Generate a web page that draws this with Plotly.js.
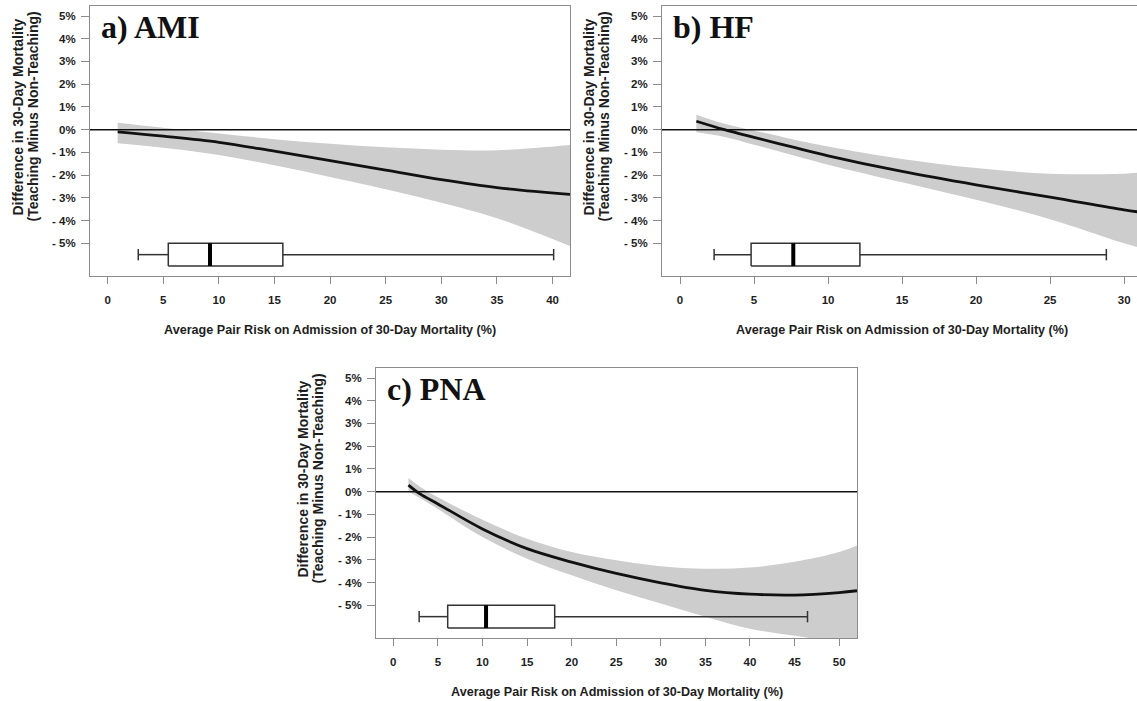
<!DOCTYPE html>
<html>
<head>
<meta charset="utf-8">
<script src="https://cdn.plot.ly/plotly-3.0.1.min.js"></script>
<style>
html,body{margin:0;padding:0;background:#fff;}
#chart{width:1137px;height:701px;}
</style>
</head>
<body>
<div id="chart"></div>
<script>
// ---------- data ----------
const panelLabels = ["a) AMI", "b) HF", "c) PNA"];
const xTitle = "Average Pair Risk on Admission of 30-Day Mortality (%)";
const yTitleLines = ["Difference in 30-Day Mortality", "(Teaching Minus Non-Teaching)"];
const yTickVals = [5, 4, 3, 2, 1, 0, -1, -2, -3, -4, -5];
const yTickText = ["5%", "4%", "3%", "2%", "1%", "0%", "- 1%", "- 2%", "- 3%", "- 4%", "- 5%"];

// a) AMI
const amiX   = [0.9, 5, 10, 15, 20, 25, 30, 35, 41.6];
const amiFit = [-0.10, -0.29, -0.56, -0.95, -1.36, -1.78, -2.20, -2.55, -2.85];
const amiHi  = [0.30, 0.08, -0.17, -0.42, -0.62, -0.78, -0.88, -0.91, -0.68];
const amiLo  = [-0.60, -0.80, -1.12, -1.57, -2.08, -2.62, -3.22, -3.90, -5.13];
const amiBox = [2.75, 5.45, 9.2, 15.75, 40.1];   // low whisker, Q1, median, Q3, high whisker
const amiTicks = [0, 5, 10, 15, 20, 25, 30, 35, 40];

// b) HF
const hfX   = [1.1, 3, 5, 7.5, 10, 15, 20, 25, 30, 31.2];
const hfFit = [0.37, 0.00, -0.34, -0.75, -1.15, -1.84, -2.43, -2.97, -3.53, -3.64];
const hfHi  = [0.66, 0.26, -0.04, -0.41, -0.74, -1.29, -1.69, -1.94, -1.94, -1.88];
const hfLo  = [-0.12, -0.32, -0.66, -1.10, -1.54, -2.32, -3.09, -3.94, -5.00, -5.22];
const hfBox = [2.3, 4.8, 7.65, 12.15, 28.8];
const hfTicks = [0, 5, 10, 15, 20, 25, 30];

// c) PNA
const pnaX   = [1.7, 3, 5, 10, 15, 20, 25, 30, 35, 40, 45, 50, 52];
const pnaFit = [0.29, -0.10, -0.54, -1.64, -2.51, -3.10, -3.60, -4.01, -4.34, -4.51, -4.55, -4.44, -4.36];
const pnaHi  = [0.60, 0.22, -0.25, -1.24, -2.07, -2.66, -3.02, -3.28, -3.39, -3.34, -3.09, -2.66, -2.37];
const pnaLo  = [0.01, -0.28, -0.76, -2.00, -2.95, -3.68, -4.34, -4.92, -5.50, -6.03, -6.34, -6.65, -6.80];
const pnaBox = [2.9, 6.1, 10.4, 18.1, 46.45];
const pnaTicks = [0, 5, 10, 15, 20, 25, 30, 35, 40, 45, 50];

// ---------- layout geometry (pixels) ----------
const W = 1137, H = 701;
const px = v => v / W;
const py = v => 1 - v / H;
const panels = [
  {x: amiX, fit: amiFit, hi: amiHi, lo: amiLo, box: amiBox, ticks: amiTicks,
   left: 90, right: 570, top: 6, bottom: 276, xr: [-1.59, 41.57], ytx: [17.5, 32.5]},
  {x: hfX, fit: hfFit, hi: hfHi, lo: hfLo, box: hfBox, ticks: hfTicks,
   left: 662, right: 1137, top: 6, bottom: 276, xr: [-1.22, 30.87], ytx: [588.5, 603.5]},
  {x: pnaX, fit: pnaFit, hi: pnaHi, lo: pnaLo, box: pnaBox, ticks: pnaTicks,
   left: 376, right: 857, top: 368, bottom: 638, xr: [-1.94, 52.0], ytx: [302.5, 317.5]}
];

const txtColor = "#1e1e1e";
const axColor = "#8c8c8c";
const sans = "Liberation Sans, Arial, sans-serif";
const tickFont = {family: sans, size: 11.5, color: txtColor, weight: "bold"};
const boxY = -5.5, boxHalf = 0.5, capHalf = 0.25;

const traces = [];
const layout = {
  width: W, height: H,
  margin: {l: 0, r: 0, t: 0, b: 0},
  paper_bgcolor: "#ffffff",
  plot_bgcolor: "#ffffff",
  showlegend: false,
  annotations: [],
  shapes: []
};

panels.forEach((p, i) => {
  const sfx = i === 0 ? "" : String(i + 1);
  const xa = "x" + sfx, ya = "y" + sfx;
  const [wl, q1, med, q3, wh] = p.box;
  const common = {xaxis: xa, yaxis: ya, hoverinfo: "skip", showlegend: false};

  traces.push(Object.assign({type: "scatter", mode: "lines", x: p.x, y: p.lo,
    line: {width: 0, color: "#cdcdcd", shape: "spline"}}, common));
  traces.push(Object.assign({type: "scatter", mode: "lines", x: p.x, y: p.hi,
    fill: "tonexty", fillcolor: "#cdcdcd",
    line: {width: 0, color: "#cdcdcd", shape: "spline"}}, common));
  traces.push(Object.assign({type: "scatter", mode: "lines", x: p.x, y: p.fit,
    line: {width: 2.8, color: "#111111", shape: "spline"}}, common));

  // box plot of the risk distribution
  traces.push(Object.assign({type: "scatter", mode: "lines",
    x: [wl, q1, null, q3, wh, null, wl, wl, null, wh, wh],
    y: [boxY, boxY, null, boxY, boxY, null, boxY - capHalf, boxY + capHalf, null, boxY - capHalf, boxY + capHalf],
    line: {width: 1.5, color: "#333333"}}, common));
  traces.push(Object.assign({type: "scatter", mode: "lines",
    x: [q1, q3, q3, q1, q1],
    y: [boxY - boxHalf, boxY - boxHalf, boxY + boxHalf, boxY + boxHalf, boxY - boxHalf],
    line: {width: 1.5, color: "#333333"}}, common));
  traces.push(Object.assign({type: "scatter", mode: "lines",
    x: [med, med], y: [boxY - boxHalf, boxY + boxHalf],
    line: {width: 4, color: "#000000"}}, common));

  layout["xaxis" + sfx] = {
    domain: [px(p.left), Math.min(1, px(p.right))],
    anchor: ya, range: p.xr, autorange: false,
    showgrid: false, zeroline: false,
    showline: true, mirror: true, linecolor: axColor, linewidth: 1,
    ticks: "outside", ticklen: 7, tickcolor: axColor, tickwidth: 1,
    tickvals: p.ticks, ticktext: p.ticks.map(String),
    tickfont: tickFont, ticklabelstandoff: 6
  };
  layout["yaxis" + sfx] = {
    domain: [py(p.bottom), py(p.top)],
    anchor: xa, range: [-6.44, 5.44], autorange: false,
    showgrid: false, zeroline: false,
    showline: true, mirror: true, linecolor: axColor, linewidth: 1,
    ticks: "outside", ticklen: 8, tickcolor: axColor, tickwidth: 1,
    tickvals: yTickVals, ticktext: yTickText,
    tickfont: tickFont, ticklabelstandoff: 3
  };

  // zero reference line
  layout.shapes.push({type: "line", xref: xa + " domain", yref: ya,
    x0: 0, x1: 1, y0: 0, y1: 0, line: {color: "#111111", width: 1.5}});

  // panel label
  layout.annotations.push({
    text: "<b>" + panelLabels[i] + "</b>", xref: "paper", yref: "paper",
    x: px(p.left + 9), y: py(p.top + 21), xanchor: "left", yanchor: "middle",
    showarrow: false,
    font: {family: "Liberation Serif, Times New Roman, serif", size: 32, color: "#111111"}
  });
  // x title
  layout.annotations.push({
    text: xTitle, xref: "paper", yref: "paper",
    x: px((p.left + (i === 1 ? 1142 : p.right)) / 2), y: py(p.bottom + 54),
    xanchor: "center", yanchor: "middle", showarrow: false,
    font: {family: sans, size: 12.6, color: txtColor, weight: "bold"}
  });
  // y title (two lines)
  yTitleLines.forEach((line, k) => {
    layout.annotations.push({
      text: line, xref: "paper", yref: "paper",
      x: px(p.ytx[k]), y: py((p.top + p.bottom) / 2 - 24),
      xanchor: "center", yanchor: "middle", textangle: -90, showarrow: false,
      font: {family: sans, size: 14, color: txtColor, weight: "bold"}
    });
  });
});

Plotly.newPlot("chart", traces, layout, {displayModeBar: false, staticPlot: true});
</script>
</body>
</html>
